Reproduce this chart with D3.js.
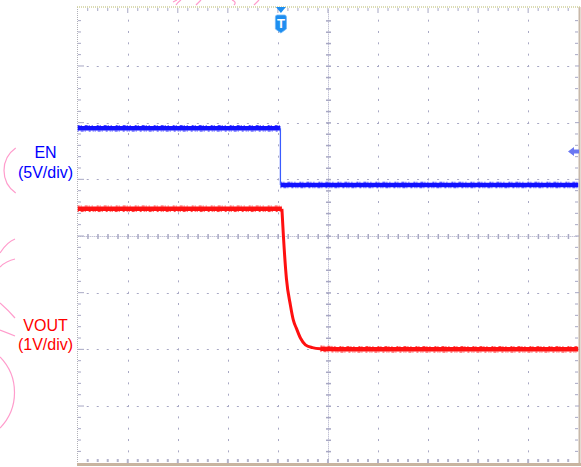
<!DOCTYPE html>
<html><head><meta charset="utf-8">
<script src="https://cdn.jsdelivr.net/npm/d3@7/dist/d3.min.js"></script>
<style>html,body{margin:0;padding:0;background:#fff;}svg{display:block;}</style>
</head><body>
<script>
// ---- data (time in divisions, voltages in volts) ----
const channelNames = ["EN", "VOUT"];
const channelScales = ["(5V/div)", "(1V/div)"];
const voltsPerDiv = [5, 1];
const groundDiv = [4.9, 2.0];         // ground reference position (div from bottom)
const enTime = [0, 4.05, 4.05, 10];
const enVolts = [5.0, 5.0, 0.0, 0.0];
const voutTime = [0, 4.08, 4.11, 4.17, 4.25, 4.31, 4.37, 4.45, 4.55, 4.69, 4.85, 5.2, 10];
const voutVolts = [2.48, 2.48, 2.0, 1.25, 0.78, 0.51, 0.37, 0.2, 0.08, 0.03, 0.01, 0.0, 0.0];
const triggerTime = 4.05;
const timeDivs = 10, voltDivs = 8;

const W = 581, H = 467;
const svg = d3.select("body").append("svg").attr("width", W).attr("height", H);

const x = d3.scaleLinear().domain([0, timeDivs]).range([77.7, 578.2]);
const y = d3.scaleLinear().domain([0, voltDivs]).range([462.7, 9.3]);
const gridC = "#a8a8c4";

// pink decorative arcs (background artefacts)
const pink = "#ff9ccc";
const pg = svg.append("g").attr("fill", "none").attr("stroke", pink).attr("stroke-width", 1.2);
pg.append("path").attr("d", "M15.7,148 A27.5,27.5 0 0 0 15.7,193");
pg.append("path").attr("d", "M0,253 Q7,242 15,239");
pg.append("path").attr("d", "M0,267 Q6,261 15,259");
pg.append("path").attr("d", "M0,303 Q8,310 15,318");
pg.append("path").attr("d", "M0,330 Q8,333 15,336");
pg.append("path").attr("d", "M0,357 A50.7,50.7 0 0 1 0,428");
pg.append("path").attr("d", "M176,5 Q178,2 181,0");
pg.append("path").attr("d", "M196,5 Q199,2 201,0");
pg.append("path").attr("d", "M232,0 Q237,2 234,5");
pg.append("path").attr("d", "M254,5 Q257,2 259,0");
pg.append("path").attr("d", "M173,2 Q175,1 177,0");

// ---- grid ----
const g = svg.append("g");
const dx = (x(1) - x(0)) / 5, dy = (y(0) - y(1)) / 5;
for (let j = 1; j < voltDivs; j++) {
  if (j === 4) continue;
  const yy = Math.round(y(j));
  d3.range(1, timeDivs * 5).forEach(k => {
    g.append("rect").attr("x", x(0) + k * dx - 1).attr("y", yy).attr("width", 2).attr("height", 1).attr("fill", gridC);
  });
}
for (let i = 1; i < timeDivs; i++) {
  if (i === 5) continue;
  const xx = Math.round(x(i));
  d3.range(1, voltDivs * 5).forEach(k => {
    g.append("rect").attr("x", xx).attr("y", y(0) - k * dy - 1).attr("width", 1).attr("height", 2).attr("fill", gridC);
  });
}
const cx = Math.round(x(5)) + 0.5, cy = Math.round(y(4)) + 0.5;
g.append("line").attr("x1", x(0)).attr("x2", x(10)).attr("y1", cy).attr("y2", cy)
  .attr("stroke", gridC).attr("stroke-dasharray", "1,1");
g.append("line").attr("y1", y(0)).attr("y2", y(8)).attr("x1", cx).attr("x2", cx)
  .attr("stroke", gridC).attr("stroke-dasharray", "1,1");
d3.range(1, timeDivs * 5).forEach(k => {
  g.append("rect").attr("x", x(0) + k * dx - 0.5).attr("y", cy - 2.5).attr("width", 1.5).attr("height", 5).attr("fill", gridC);
});
d3.range(1, voltDivs * 5).forEach(k => {
  g.append("rect").attr("x", cx - 2.5).attr("y", y(0) - k * dy - 0.5).attr("width", 5).attr("height", 1.5).attr("fill", gridC);
});
g.append("line").attr("x1", 77.5).attr("x2", 77.5).attr("y1", 7).attr("y2", 463)
  .attr("stroke", "#b0b0b8").attr("stroke-dasharray", "1,1");
d3.range(1, voltDivs * 5).forEach(k => {
  g.append("rect").attr("x", 78).attr("y", y(0) - k * dy - 0.5).attr("width", k % 5 === 0 ? 6 : 3).attr("height", 1).attr("fill", gridC);
});
g.append("line").attr("x1", 579.5).attr("x2", 579.5).attr("y1", 7).attr("y2", 465)
  .attr("stroke", "#c8b8a8").attr("stroke-width", 2);
d3.range(1, voltDivs * 5).forEach(k => {
  g.append("rect").attr("x", 575).attr("y", y(0) - k * dy - 0.5).attr("width", k % 5 === 0 ? 4 : 3).attr("height", 1).attr("fill", gridC);
});
g.append("line").attr("x1", 77).attr("x2", 580).attr("y1", 7).attr("y2", 7)
  .attr("stroke", "#cfcf9a").attr("stroke-width", 1.5).attr("stroke-dasharray", "1,1");
d3.range(1, timeDivs * 5).forEach(k => {
  g.append("rect").attr("x", x(0) + k * dx - 0.5).attr("y", 8).attr("width", 1).attr("height", k % 5 === 0 ? 5 : 3).attr("fill", gridC);
});
g.append("line").attr("x1", 77).attr("x2", 581).attr("y1", 464.5).attr("y2", 464.5)
  .attr("stroke", "#c8b4a0").attr("stroke-width", 3);
d3.range(1, timeDivs * 5).forEach(k => {
  g.append("rect").attr("x", x(0) + k * dx - 1).attr("y", 459).attr("width", 2).attr("height", k % 5 === 0 ? 4 : 3).attr("fill", "#b4b4cc");
});

// ---- traces ----
const toDiv = (v, ch) => groundDiv[ch] + v / voltsPerDiv[ch];
const lineGen = ch => d3.line().x(d => x(d[0])).y(d => y(toDiv(d[1], ch)));
const enData = enTime.map((t, i) => [t, enVolts[i]]);
const voutData = voutTime.map((t, i) => [t, voutVolts[i]]);

// noisy band: core stroke plus jagged edges drawn with irregular dash patterns
function band(data, ch, color, w) {
  const p = lineGen(ch)(data);
  svg.append("path").attr("d", p).attr("fill", "none").attr("stroke", color).attr("stroke-width", w);
  [["2,1,1,3,3,1,1,2,1,4", -w / 2 - 0.5], ["1,2,3,1,1,3,2,2,1,1", w / 2 + 0.5]].forEach(([dash, off]) => {
    svg.append("path").attr("d", p).attr("transform", `translate(0,${off})`).attr("fill", "none")
      .attr("stroke", color).attr("stroke-width", 1).attr("stroke-dasharray", dash).attr("opacity", 0.8);
  });
}

// EN
band(enData.slice(0, 2), 0, "#1212ff", 4.5);
band(enData.slice(2), 0, "#1212ff", 4.5);
svg.append("path").datum(enData.slice(1, 3)).attr("d", lineGen(0))
  .attr("fill", "none").attr("stroke", "#3a5cff").attr("stroke-width", 1.3);

// VOUT: flat parts as noisy band, transition as thinner line
band(voutData.slice(0, 2), 1, "#ff1212", 4.5);
band(voutData.slice(10), 1, "#ff1212", 4.5);
svg.append("path").datum(voutData.slice(1, 12)).attr("d", lineGen(1).curve(d3.curveMonotoneX))
  .attr("fill", "none").attr("stroke", "#ff1010").attr("stroke-width", 3).attr("stroke-linejoin", "round");

// ---- trigger marker ----
const tx = x(triggerTime) + 0.5;
svg.append("path").attr("d", `M${tx - 5},7 L${tx + 5},7 L${tx},13 Z`).attr("fill", "#1e8ef0");
svg.append("path").attr("d", `M${tx - 5.5},17 Q${tx - 5.5},15 ${tx - 3.5},15 L${tx + 3.5},15 Q${tx + 5.5},15 ${tx + 5.5},17 L${tx + 5.5},29 L${tx},33 L${tx - 5.5},29 Z`)
  .attr("fill", "#1e8ef0").attr("stroke", "#6fb8f8").attr("stroke-width", 0.8);
svg.append("text").attr("x", tx).attr("y", 28).attr("text-anchor", "middle")
  .attr("font-family", "Liberation Sans, Arial, sans-serif").attr("font-weight", "bold").attr("font-size", 13)
  .attr("fill", "#fff").text("T");

// ground/offset arrow on the right
svg.append("path").attr("d", "M568,151.5 L574,147 L574,149.5 L579,149.5 L579,153.5 L574,153.5 L574,156 Z").attr("fill", "#6a78f2");

// ---- channel labels ----
const labelY = [[158, 178], [331, 350]];
const labelC = ["#0000ff", "#ff0000"];
channelNames.forEach((name, i) => {
  const t = svg.append("text").attr("text-anchor", "middle")
    .attr("font-family", "Liberation Sans, Arial, sans-serif").attr("font-size", 16).attr("fill", labelC[i]);
  t.append("tspan").attr("x", 45.5).attr("y", labelY[i][0]).text(name);
  t.append("tspan").attr("x", 45.5).attr("y", labelY[i][1]).text(channelScales[i]);
});
</script>
</body></html>
